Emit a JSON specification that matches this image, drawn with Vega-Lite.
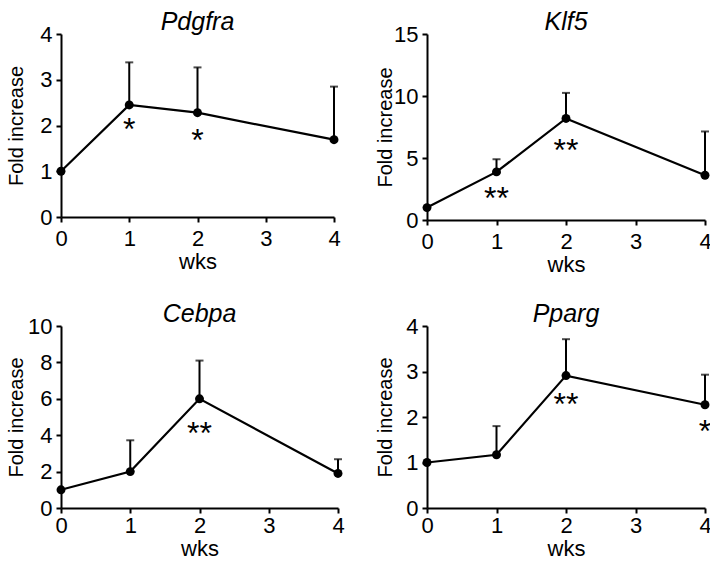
{
  "$schema": "https://vega.github.io/schema/vega-lite/v6.json",
  "background": "white",
  "padding": {"left": 6, "top": 10, "right": 0, "bottom": 0},
  "columns": 2,
  "align": "each",
  "spacing": {"column": 30, "row": 27},
  "datasets": {
    "pts": [
      {"gene": "Pdgfra", "wk": 0, "val": 1.0, "top": 1.0},
      {"gene": "Pdgfra", "wk": 1, "val": 2.45, "top": 3.38},
      {"gene": "Pdgfra", "wk": 2, "val": 2.28, "top": 3.27},
      {"gene": "Pdgfra", "wk": 4, "val": 1.69, "top": 2.85},
      {"gene": "Klf5", "wk": 0, "val": 1.0, "top": 1.0},
      {"gene": "Klf5", "wk": 1, "val": 3.88, "top": 4.9},
      {"gene": "Klf5", "wk": 2, "val": 8.19, "top": 10.25},
      {"gene": "Klf5", "wk": 4, "val": 3.61, "top": 7.14},
      {"gene": "Cebpa", "wk": 0, "val": 1.0, "top": 1.0},
      {"gene": "Cebpa", "wk": 1, "val": 2.0, "top": 3.72},
      {"gene": "Cebpa", "wk": 2, "val": 6.0, "top": 8.1},
      {"gene": "Cebpa", "wk": 4, "val": 1.9, "top": 2.68},
      {"gene": "Pparg", "wk": 0, "val": 1.0, "top": 1.0},
      {"gene": "Pparg", "wk": 1, "val": 1.17, "top": 1.8},
      {"gene": "Pparg", "wk": 2, "val": 2.91, "top": 3.71},
      {"gene": "Pparg", "wk": 4, "val": 2.27, "top": 2.93}
    ],
    "stars": [
      {"gene": "Pdgfra", "wk": 1, "y": 2.07, "label": "*"},
      {"gene": "Pdgfra", "wk": 2, "y": 1.84, "label": "*"},
      {"gene": "Klf5", "wk": 1, "y": 2.3, "label": "**"},
      {"gene": "Klf5", "wk": 2, "y": 6.2, "label": "**"},
      {"gene": "Cebpa", "wk": 2, "y": 4.5, "label": "**"},
      {"gene": "Pparg", "wk": 2, "y": 2.44, "label": "**"},
      {"gene": "Pparg", "wk": 4, "y": 1.84, "label": "*"}
    ]
  },
  "config": {
    "font": "Liberation Sans",
    "view": {"stroke": null},
    "axis": {
      "grid": false,
      "domainColor": "black",
      "domainWidth": 2,
      "tickColor": "black",
      "tickWidth": 2,
      "tickSize": 5,
      "labelColor": "black",
      "labelFontSize": 22,
      "labelFont": "Liberation Sans",
      "labelOverlap": false,
      "labelFlush": false,
      "titleColor": "black",
      "titleFontSize": 20,
      "titleFontWeight": "normal",
      "titleFont": "Liberation Sans",
      "format": "d"
    },
    "title": {"font": "Liberation Sans", "fontSize": 25, "fontWeight": "normal", "fontStyle": "italic", "color": "black", "anchor": "middle", "offset": -12}
  },
  "concat": [
    {
      "width": 273, "height": 183,
      "title": "Pdgfra",
      "layer": [
        {"data": {"name": "pts"}, "transform": [{"filter": "datum.gene == 'Pdgfra'"}], "mark": {"type": "rule", "strokeWidth": 2, "color": "black"},
         "encoding": {"x": {"field": "wk", "type": "quantitative", "scale": {"domain": [0, 4], "nice": false}, "axis": {"values": [0, 1, 2, 3, 4], "tickCount": 10, "title": "wks", "titleFontSize": 22, "labelFontSize": 22, "labelPadding": 6, "titlePadding": 2, "format": "d", "labelOverlap": false}},
                      "y": {"field": "val", "type": "quantitative", "scale": {"domain": [0, 4], "nice": false}, "axis": {"values": [0, 1, 2, 3, 4], "tickCount": 10, "title": "Fold increase", "labelFontSize": 22, "titleFontSize": 20, "labelPadding": 4, "titlePadding": 13, "format": "d", "labelOverlap": false}},
                      "y2": {"field": "top"}}},
        {"data": {"name": "pts"}, "transform": [{"filter": "datum.gene == 'Pdgfra' && datum.wk > 0"}], "mark": {"type": "tick", "orient": "horizontal", "thickness": 2, "size": 8, "color": "black"},
         "encoding": {"x": {"field": "wk", "type": "quantitative"}, "y": {"field": "top", "type": "quantitative"}}},
        {"data": {"name": "pts"}, "transform": [{"filter": "datum.gene == 'Pdgfra'"}], "mark": {"type": "line", "strokeWidth": 2.2, "color": "black", "point": {"filled": true, "size": 80, "color": "black", "opacity": 1}},
         "encoding": {"x": {"field": "wk", "type": "quantitative"}, "y": {"field": "val", "type": "quantitative"}}},
        {"data": {"name": "stars"}, "transform": [{"filter": "datum.gene == 'Pdgfra'"}], "mark": {"type": "text", "fontSize": 32, "baseline": "alphabetic", "dy": 18, "color": "black", "font": "Liberation Sans"},
         "encoding": {"x": {"field": "wk", "type": "quantitative"}, "y": {"field": "y", "type": "quantitative"}, "text": {"field": "label"}}}
      ]
    },
    {
      "width": 278, "height": 186,
      "title": "Klf5",
      "layer": [
        {"data": {"name": "pts"}, "transform": [{"filter": "datum.gene == 'Klf5'"}], "mark": {"type": "rule", "strokeWidth": 2, "color": "black"},
         "encoding": {"x": {"field": "wk", "type": "quantitative", "scale": {"domain": [0, 4], "nice": false}, "axis": {"values": [0, 1, 2, 3, 4], "tickCount": 10, "title": "wks", "titleFontSize": 22, "labelFontSize": 22, "labelPadding": 6, "titlePadding": 2, "format": "d", "labelOverlap": false}},
                      "y": {"field": "val", "type": "quantitative", "scale": {"domain": [0, 15], "nice": false}, "axis": {"values": [0, 5, 10, 15], "tickCount": 10, "title": "Fold increase", "labelFontSize": 22, "titleFontSize": 20, "labelPadding": 4, "titlePadding": -2, "format": "d", "labelOverlap": false}},
                      "y2": {"field": "top"}}},
        {"data": {"name": "pts"}, "transform": [{"filter": "datum.gene == 'Klf5' && datum.wk > 0"}], "mark": {"type": "tick", "orient": "horizontal", "thickness": 2, "size": 8, "color": "black"},
         "encoding": {"x": {"field": "wk", "type": "quantitative"}, "y": {"field": "top", "type": "quantitative"}}},
        {"data": {"name": "pts"}, "transform": [{"filter": "datum.gene == 'Klf5'"}], "mark": {"type": "line", "strokeWidth": 2.2, "color": "black", "point": {"filled": true, "size": 80, "color": "black", "opacity": 1}},
         "encoding": {"x": {"field": "wk", "type": "quantitative"}, "y": {"field": "val", "type": "quantitative"}}},
        {"data": {"name": "stars"}, "transform": [{"filter": "datum.gene == 'Klf5'"}], "mark": {"type": "text", "fontSize": 32, "baseline": "alphabetic", "dy": 18, "color": "black", "font": "Liberation Sans"},
         "encoding": {"x": {"field": "wk", "type": "quantitative"}, "y": {"field": "y", "type": "quantitative"}, "text": {"field": "label"}}}
      ]
    },
    {
      "width": 277, "height": 182,
      "title": "Cebpa",
      "layer": [
        {"data": {"name": "pts"}, "transform": [{"filter": "datum.gene == 'Cebpa'"}], "mark": {"type": "rule", "strokeWidth": 2, "color": "black"},
         "encoding": {"x": {"field": "wk", "type": "quantitative", "scale": {"domain": [0, 4], "nice": false}, "axis": {"values": [0, 1, 2, 3, 4], "tickCount": 10, "title": "wks", "titleFontSize": 22, "labelFontSize": 22, "labelPadding": 2, "titlePadding": 2, "format": "d", "labelOverlap": false}},
                      "y": {"field": "val", "type": "quantitative", "scale": {"domain": [0, 10], "nice": false}, "axis": {"values": [0, 2, 4, 6, 8, 10], "tickCount": 10, "title": "Fold increase", "labelFontSize": 22, "titleFontSize": 20, "labelPadding": 4, "titlePadding": 1, "format": "d", "labelOverlap": false}},
                      "y2": {"field": "top"}}},
        {"data": {"name": "pts"}, "transform": [{"filter": "datum.gene == 'Cebpa' && datum.wk > 0"}], "mark": {"type": "tick", "orient": "horizontal", "thickness": 2, "size": 8, "color": "black"},
         "encoding": {"x": {"field": "wk", "type": "quantitative"}, "y": {"field": "top", "type": "quantitative"}}},
        {"data": {"name": "pts"}, "transform": [{"filter": "datum.gene == 'Cebpa'"}], "mark": {"type": "line", "strokeWidth": 2.2, "color": "black", "point": {"filled": true, "size": 80, "color": "black", "opacity": 1}},
         "encoding": {"x": {"field": "wk", "type": "quantitative"}, "y": {"field": "val", "type": "quantitative"}}},
        {"data": {"name": "stars"}, "transform": [{"filter": "datum.gene == 'Cebpa'"}], "mark": {"type": "text", "fontSize": 32, "baseline": "alphabetic", "dy": 18, "color": "black", "font": "Liberation Sans"},
         "encoding": {"x": {"field": "wk", "type": "quantitative"}, "y": {"field": "y", "type": "quantitative"}, "text": {"field": "label"}}}
      ]
    },
    {
      "width": 278, "height": 182,
      "title": "Pparg",
      "layer": [
        {"data": {"name": "pts"}, "transform": [{"filter": "datum.gene == 'Pparg'"}], "mark": {"type": "rule", "strokeWidth": 2, "color": "black"},
         "encoding": {"x": {"field": "wk", "type": "quantitative", "scale": {"domain": [0, 4], "nice": false}, "axis": {"values": [0, 1, 2, 3, 4], "tickCount": 10, "title": "wks", "titleFontSize": 22, "labelFontSize": 22, "labelPadding": 2, "titlePadding": 2, "format": "d", "labelOverlap": false}},
                      "y": {"field": "val", "type": "quantitative", "scale": {"domain": [0, 4], "nice": false}, "axis": {"values": [0, 1, 2, 3, 4], "tickCount": 10, "title": "Fold increase", "labelFontSize": 22, "titleFontSize": 20, "labelPadding": 4, "titlePadding": 10, "format": "d", "labelOverlap": false}},
                      "y2": {"field": "top"}}},
        {"data": {"name": "pts"}, "transform": [{"filter": "datum.gene == 'Pparg' && datum.wk > 0"}], "mark": {"type": "tick", "orient": "horizontal", "thickness": 2, "size": 8, "color": "black"},
         "encoding": {"x": {"field": "wk", "type": "quantitative"}, "y": {"field": "top", "type": "quantitative"}}},
        {"data": {"name": "pts"}, "transform": [{"filter": "datum.gene == 'Pparg'"}], "mark": {"type": "line", "strokeWidth": 2.2, "color": "black", "point": {"filled": true, "size": 80, "color": "black", "opacity": 1}},
         "encoding": {"x": {"field": "wk", "type": "quantitative"}, "y": {"field": "val", "type": "quantitative"}}},
        {"data": {"name": "stars"}, "transform": [{"filter": "datum.gene == 'Pparg'"}], "mark": {"type": "text", "fontSize": 32, "baseline": "alphabetic", "dy": 18, "color": "black", "font": "Liberation Sans"},
         "encoding": {"x": {"field": "wk", "type": "quantitative"}, "y": {"field": "y", "type": "quantitative"}, "text": {"field": "label"}}}
      ]
    }
  ]
}
